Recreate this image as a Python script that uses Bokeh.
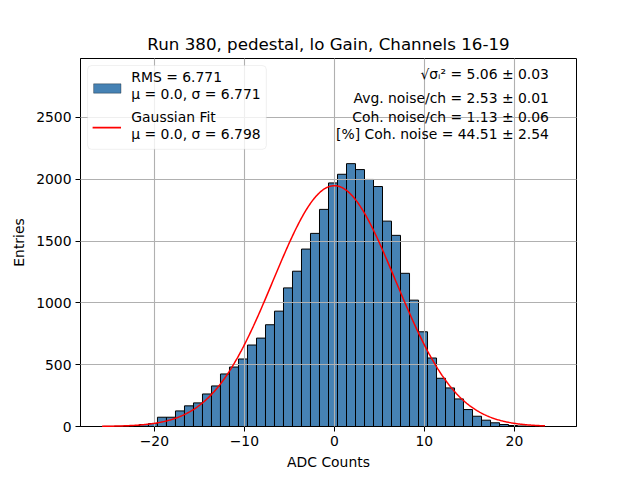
import numpy as np
from bokeh.plotting import figure
from bokeh.models import ColumnDataSource, Label, BoxAnnotation, Range1d, FixedTicker
from bokeh.embed import file_html
from bokeh.resources import INLINE

# ---- data ----
bin_start = -25.65
bin_width = 1.0
counts = [1, 1, 2, 6, 16, 24, 75, 75, 126, 167,
          191, 263, 328, 425, 481, 546, 659, 715, 823, 933,
          1121, 1256, 1435, 1562, 1756, 1970, 2040, 2126, 2078, 1998,
          1941, 1661, 1546, 1239, 1022, 766, 554, 390, 312, 223,
          137, 83, 51, 30, 16, 8, 4, 2, 1, 0]
fit_mu = 0.0
fit_sigma = 6.798
fit_x_min = -25.8
fit_x_max = 23.4

title = "Run 380, pedestal, lo Gain, Channels 16-19"
legend_lines = [["RMS = 6.771", "μ = 0.0, σ = 6.771"],
                ["Gaussian Fit", "μ = 0.0, σ = 6.798"]]
info_lines = ["√σᵢ² = 5.06 ± 0.03",
              "Avg. noise/ch = 2.53 ± 0.01",
              "Coh. noise/ch = 1.13 ± 0.06",
              "[%] Coh. noise = 44.51 ± 2.54"]
x_ticks = [-20, -10, 0, 10, 20]
y_ticks = [0, 500, 1000, 1500, 2000, 2500]

FONT = "DejaVu Sans"
FS = "13.9px"

counts_arr = np.array(counts, dtype=float)
left = bin_start + bin_width * np.arange(len(counts))
right = left + bin_width
src = ColumnDataSource(dict(left=left, right=right, top=counts_arr,
                            bottom=np.zeros(len(counts))))

n_total = counts_arr.sum()
amp = n_total * bin_width / (fit_sigma * np.sqrt(2 * np.pi))
fx = np.linspace(fit_x_min, fit_x_max, 600)
fy = amp * np.exp(-0.5 * ((fx - fit_mu) / fit_sigma) ** 2)

ymax = 1.4 * counts_arr.max()

p = figure(width=632, height=472, output_backend="svg", toolbar_location=None,
           x_range=Range1d(-28.2, 26.9), y_range=Range1d(0, ymax),
           min_border_left=80, min_border_right=56, min_border_top=58,
           min_border_bottom=45)

p.title.text = title
p.title.align = "center"
p.title.text_font = FONT
p.title.text_font_size = "16.7px"
p.title.text_font_style = "normal"
p.title.text_color = "black"

p.quad(left="left", right="right", top="top", bottom="bottom", source=src,
       fill_color="#4682b4", line_color="black", line_width=1)
fit_r = p.line(fx, fy, line_color="red", line_width=1.5)
fit_r.level = "annotation"

for g in (p.xgrid, p.ygrid):
    g.grid_line_color = "#b0b0b0"
    g.grid_line_width = 1.1
    g.level = "guide"

p.xaxis.ticker = FixedTicker(ticks=x_ticks)
p.yaxis.ticker = FixedTicker(ticks=y_ticks)
p.xaxis.major_label_overrides = {t: ("\u2212" + str(-t) if t < 0 else str(t)) for t in x_ticks}
for ax in (p.xaxis, p.yaxis):
    ax.major_tick_out = 5
    ax.major_tick_in = 0
    ax.minor_tick_out = 0
    ax.minor_tick_in = 0
    ax.axis_line_color = "black"
    ax.major_tick_line_color = "black"
    ax.major_label_text_font = FONT
    ax.major_label_text_font_size = FS
    ax.major_label_text_color = "black"
    ax.axis_label_text_font = FONT
    ax.axis_label_text_font_size = FS
    ax.axis_label_text_font_style = "normal"
    ax.axis_label_text_color = "black"
    ax.major_label_standoff = 4
p.xaxis.axis_label = "ADC Counts"
p.yaxis.axis_label = "Entries"
p.xaxis.axis_label_standoff = 5
p.yaxis.axis_label_standoff = 6
p.outline_line_color = "black"
p.outline_line_alpha = 1.0
p.outline_line_width = 1


# helpers: convert reference pixel positions to data
def dx(px):
    return (px - 334.0) / 9.0


def dy(py):
    return (427.0 - py) * 500.0 / 62.0


# legend box
p.add_layout(BoxAnnotation(left=dx(87.3), right=dx(266), top=dy(65), bottom=dy(149),
                           fill_color="white", fill_alpha=0.8, line_color="#cccccc",
                           line_width=1, border_radius=4))
p.add_layout(BoxAnnotation(left=dx(93.3), right=dx(120.7), top=dy(83.3), bottom=dy(92.7),
                           fill_color="#4682b4", fill_alpha=1, line_color="black",
                           line_width=1))
p.add_layout(BoxAnnotation(left=dx(92.3), right=dx(120.7), top=dy(126.5), bottom=dy(128.2),
                           fill_color="red", fill_alpha=1, line_color=None))
leg_y = [[76.7, 94.0], [116.7, 134.0]]
for lines, ys in zip(legend_lines, leg_y):
    for t, yy in zip(lines, ys):
        p.add_layout(Label(x=dx(131), y=dy(yy), text=t, text_font=FONT,
                           text_font_size=FS, text_baseline="middle",
                           text_align="left", text_color="black"))

info_y = [73.3, 97.7, 116.7, 134.0]
for t, yy in zip(info_lines, info_y):
    p.add_layout(Label(x=dx(548.5), y=dy(yy), text=t, text_font=FONT,
                       text_font_size=FS, text_baseline="middle",
                       text_align="right", text_color="black"))

open("out.html", "w").write(file_html(p, INLINE))
